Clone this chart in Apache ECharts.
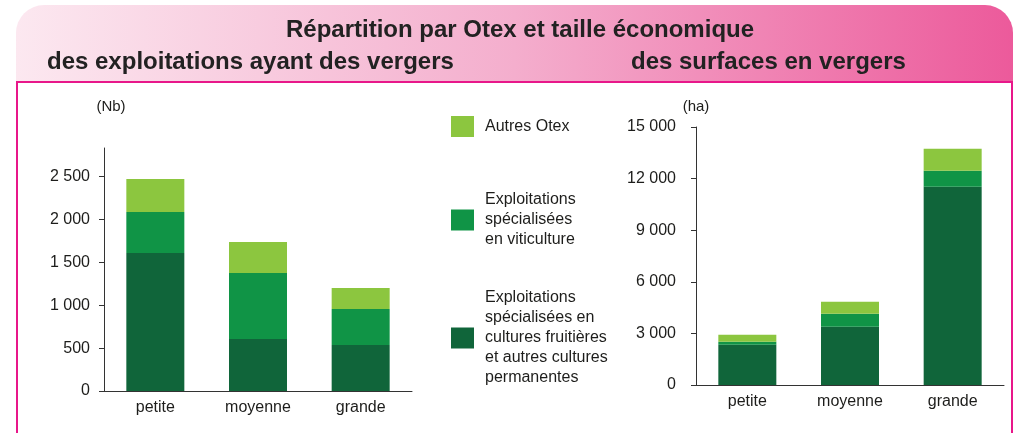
<!DOCTYPE html>
<html>
<head>
<meta charset="utf-8">
<script src="https://cdn.jsdelivr.net/npm/echarts@6/dist/echarts.min.js"></script>
<style>
  html, body { margin: 0; padding: 0; background: #fff; }
  #chart { width: 1016px; height: 433px; }
</style>
</head>
<body>
<div id="chart"></div>
<script>
"use strict";

const categories = ["petite", "moyenne", "grande"];
const seriesNames = [
  "Exploitations spécialisées en cultures fruitières et autres cultures permanentes",
  "Exploitations spécialisées en viticulture",
  "Autres Otex"
];
const legendLabels = {
  "Autres Otex": "Autres Otex",
  "Exploitations spécialisées en viticulture": "Exploitations\nspécialisées\nen viticulture",
  "Exploitations spécialisées en cultures fruitières et autres cultures permanentes":
    "Exploitations\nspécialisées en\ncultures fruitières\net autres cultures\npermanentes"
};
const colors = ["#10653a", "#109446", "#8cc63f"];

// nombre d'exploitations
const nbFruit = [1610, 607, 537];
const nbViti = [478, 770, 420];
const nbAutres = [385, 361, 245];
const nbTicks = [0, 500, 1000, 1500, 2000, 2500];

// surfaces (ha)
const haFruit = [2340, 3390, 11520];
const haViti = [175, 750, 930];
const haAutres = [405, 700, 1280];
const haTicks = [0, 3000, 6000, 9000, 12000, 15000];

const font = "'Liberation Sans', Arial, sans-serif";
const txt = "#1d1d1b";

const myChart = echarts.init(document.getElementById("chart"));

function fmt(v) {
  return String(v).replace(/\B(?=(\d{3})+(?!\d))/g, " ");
}

function xAx(grid) {
  return {
    type: "category", gridIndex: grid, data: categories,
    axisLine: {lineStyle: {color: "#333", width: 1}},
    axisTick: {length: 5, lineStyle: {color: "#333"}},
    axisLabel: {color: txt, fontSize: 16, fontFamily: font, margin: 9}
  };
}
function yAx(grid, max, ticks, name, gap, pad, margin) {
  return {
    type: "value", gridIndex: grid, min: 0, max: max,
    name: name, nameLocation: "end", nameGap: gap,
    nameTextStyle: {color: txt, fontSize: 15, fontFamily: font, padding: pad},
    splitLine: {show: false},
    axisLine: {show: true, lineStyle: {color: "#333", width: 1}},
    axisTick: {show: true, length: 5, customValues: ticks, lineStyle: {color: "#333"}},
    axisLabel: {color: txt, fontSize: 16, fontFamily: font, margin: margin,
      customValues: ticks, formatter: fmt}
  };
}
function bars(grid, data, i) {
  return {
    type: "bar", name: seriesNames[i], stack: "s" + grid,
    xAxisIndex: grid, yAxisIndex: grid, data: data, barWidth: 58,
    itemStyle: {color: colors[i]}, z: 5
  };
}
function leg(name, top) {
  return {
    data: [name], left: 451, top: top, orient: "vertical", padding: 0,
    icon: "rect", itemWidth: 23, itemHeight: 21, selectedMode: false,
    formatter: (n) => legendLabels[n],
    textStyle: {color: txt, fontSize: 16, lineHeight: 20, fontFamily: font, padding: [0, 0, 0, 6]}
  };
}

const option = {
  animation: false,
  graphic: [
    {
      type: "rect", z: -10, silent: true,
      shape: {x: 16, y: 5, width: 997, height: 78, r: [28, 28, 0, 0]},
      style: {fill: new echarts.graphic.LinearGradient(0, 0, 1, 0, [
        {offset: 0, color: "#fce8f0"},
        {offset: 0.5, color: "#f4aecd"},
        {offset: 1, color: "#ec5a9b"}
      ])}
    },
    {
      type: "rect", z: -9, silent: true,
      shape: {x: 17, y: 82, width: 995, height: 400},
      style: {fill: "#fff", stroke: "#e8178a", lineWidth: 2}
    }
  ],
  title: [
    {text: "Répartition par Otex et taille économique", left: 515, top: 13, textAlign: "center",
      textStyle: {fontSize: 24, fontWeight: "bold", color: "#222", fontFamily: font}},
    {text: "des exploitations ayant des vergers", left: 42, top: 45,
      textStyle: {fontSize: 24, fontWeight: "bold", color: "#222", fontFamily: font}},
    {text: "des surfaces en vergers", left: 626, top: 45,
      textStyle: {fontSize: 24, fontWeight: "bold", color: "#222", fontFamily: font}}
  ],
  legend: [
    leg(seriesNames[2], 116),
    leg(seriesNames[1], 190),
    leg(seriesNames[0], 288)
  ],
  grid: [
    {left: 104, top: 148, width: 308, height: 243},
    {left: 696, top: 127, width: 308, height: 258}
  ],
  xAxis: [xAx(0), xAx(1)],
  yAxis: [
    yAx(0, 2835, nbTicks, "(Nb)", 34, [0, 0, 0, 14], 14),
    yAx(1, 15000, haTicks, "(ha)", 13, [0, 0, 0, 0], 20)
  ],
  series: [
    bars(0, nbFruit, 0), bars(0, nbViti, 1), bars(0, nbAutres, 2),
    bars(1, haFruit, 0), bars(1, haViti, 1), bars(1, haAutres, 2)
  ]
};

myChart.setOption(option);
</script>
</body>
</html>
